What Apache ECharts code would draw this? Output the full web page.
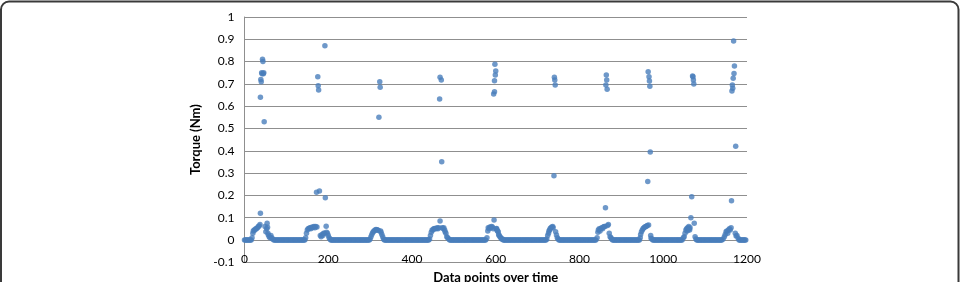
<!DOCTYPE html>
<html>
<head>
<meta charset="utf-8">
<script src="https://cdn.jsdelivr.net/npm/echarts@6/dist/echarts.min.js"></script>
<style>
  html, body { margin: 0; padding: 0; background: #fff; }
  #chart { width: 961px; height: 282px; }
</style>
</head>
<body>
<div id="chart"></div>
<script>
// tick setup
const xTicks = [0, 200, 400, 600, 800, 1000, 1200]
const yTicks = [-0.1, 0, 0.1, 0.2, 0.3, 0.4, 0.5, 0.6, 0.7, 0.8, 0.9, 1]

// stretches of the series that sit flat at 0 (start, end index)
const zeroRuns = [
  [0, 16], [70, 144], [206, 298], [334, 440], [490, 577],
  [618, 720], [751, 840], [879, 943], [975, 1046], [1080, 1141], [1181, 1197]
]

// the ten torque bursts, [index, torque]
const burst1 = [[18,0.01],[20,0.03],[21,0.04],[23,0.045],[25,0.045],[27,0.05],[29,0.052],[31,0.055],[33,0.06],[35,0.063],[37,0.07],[38,0.12],[38,0.64],[39,0.72],[40,0.71],[41,0.75],[42,0.745],[43,0.81],[44,0.8],[45,0.745],[46,0.75],[47,0.53],[49,0.06],[51,0.037],[53,0.05],[54,0.075],[55,0.057],[56,0.03],[57,0.022],[59,0.015],[61,0.01],[63,0.02],[65,0.01],[67,0.005]]
const burst2 = [[146,0.01],[148,0.03],[150,0.045],[152,0.05],[154,0.052],[156,0.055],[158,0.05],[160,0.057],[162,0.055],[164,0.058],[166,0.06],[168,0.055],[170,0.06],[172,0.214],[173,0.058],[175,0.732],[176,0.692],[177,0.673],[179,0.22],[181,0.02],[183,0.015],[185,0.025],[187,0.02],[189,0.03],[191,0.03],[192,0.871],[193,0.19],[195,0.062],[196,0.035],[198,0.03],[200,0.02],[202,0.01],[204,0.005]]
const burst3 = [[300,0.005],[302,0.015],[304,0.025],[306,0.032],[308,0.038],[310,0.042],[312,0.045],[314,0.047],[316,0.046],[318,0.045],[320,0.043],[321,0.55],[323,0.71],[324,0.685],[325,0.04],[326,0.035],[328,0.025],[330,0.015],[332,0.005]]
const burst4 = [[442,0.005],[444,0.02],[446,0.035],[448,0.045],[450,0.045],[452,0.05],[454,0.052],[456,0.05],[458,0.052],[460,0.055],[462,0.05],[464,0.055],[466,0.632],[467,0.085],[467,0.73],[470,0.717],[471,0.351],[472,0.055],[474,0.052],[476,0.055],[478,0.045],[479,0.037],[481,0.03],[483,0.015],[485,0.01],[488,0.005]]
const burst5 = [[579,0.01],[581,0.04],[582,0.055],[584,0.05],[586,0.058],[588,0.055],[590,0.06],[592,0.058],[594,0.05],[595,0.655],[596,0.09],[597,0.714],[597,0.665],[598,0.788],[599,0.74],[600,0.758],[601,0.05],[602,0.052],[603,0.045],[604,0.04],[606,0.037],[607,0.025],[608,0.02],[610,0.015],[612,0.01],[614,0.005],[616,0.005]]
const burst6 = [[722,0.005],[724,0.02],[726,0.03],[727,0.04],[729,0.045],[730,0.052],[732,0.055],[734,0.058],[736,0.06],[737,0.055],[739,0.288],[740,0.73],[741,0.717],[742,0.695],[743,0.037],[745,0.022],[747,0.01],[749,0.005]]
const burst7 = [[842,0.01],[844,0.035],[845,0.045],[847,0.05],[849,0.04],[851,0.052],[853,0.055],[855,0.05],[857,0.058],[859,0.06],[861,0.06],[862,0.145],[863,0.695],[864,0.74],[865,0.717],[866,0.676],[867,0.065],[869,0.07],[871,0.03],[873,0.015],[875,0.01],[877,0.005]]
const burst8 = [[945,0.01],[946,0.025],[948,0.037],[950,0.045],[952,0.052],[954,0.055],[956,0.058],[958,0.06],[960,0.062],[962,0.065],[963,0.262],[964,0.755],[965,0.067],[966,0.732],[967,0.713],[968,0.69],[969,0.395],[970,0.02],[971,0.008],[973,0.005]]
const burst9 = [[1048,0.01],[1050,0.015],[1052,0.03],[1054,0.045],[1056,0.05],[1057,0.04],[1058,0.055],[1059,0.045],[1060,0.052],[1061,0.06],[1062,0.05],[1063,0.045],[1064,0.055],[1066,0.1],[1068,0.194],[1070,0.735],[1071,0.732],[1072,0.717],[1073,0.7],[1074,0.075],[1076,0.015],[1078,0.005]]
const burst10 = [[1143,0.005],[1146,0.015],[1148,0.025],[1150,0.037],[1152,0.04],[1154,0.03],[1156,0.045],[1158,0.05],[1160,0.045],[1162,0.055],[1163,0.176],[1164,0.668],[1165,0.695],[1166,0.68],[1167,0.725],[1168,0.892],[1169,0.747],[1170,0.78],[1172,0.03],[1173,0.42],[1174,0.018],[1176,0.02],[1179,0.008]]

const bursts = [burst1, burst2, burst3, burst4, burst5, burst6, burst7, burst8, burst9, burst10]

// flat zeros are drawn every 2nd index (markers overlap into a solid band anyway)
const zeroPoints = []
zeroRuns.forEach(([a, b]) => {
  for (let i = a; i <= b; i += 2) zeroPoints.push([i, 0])
})
const points = zeroPoints.concat(...bursts)

const font = 'Lato, "Open Sans", sans-serif'
const gridGray = '#8f8f8f'

const chart = echarts.init(document.getElementById('chart'))
chart.setOption({
  animation: false,
  textStyle: { fontFamily: font },
  grid: { left: 244.5, right: 214, top: 17, bottom: 19.7, outerBoundsMode: 'none', containLabel: false },
  xAxis: {
    type: 'value',
    min: xTicks[0],
    max: xTicks[xTicks.length - 1],
    interval: 200,
    name: 'Data points over time',
    nameLocation: 'middle',
    nameGap: 9,
    nameTextStyle: { fontWeight: 'bold', fontSize: 13, color: '#000', fontFamily: font },
    axisLine: { show: false, onZero: false },
    axisTick: { show: false },
    splitLine: { show: false },
    axisLabel: { margin: -9, fontSize: 12, color: '#000', fontFamily: font, formatter: v => String(v) }
  },
  yAxis: {
    type: 'value',
    min: yTicks[0],
    max: yTicks[yTicks.length - 1],
    interval: 0.1,
    name: 'Torque (Nm)',
    nameLocation: 'middle',
    nameGap: 31,
    nameTextStyle: { fontWeight: 'bold', fontSize: 13, color: '#000', fontFamily: font },
    axisLine: { show: true, lineStyle: { color: gridGray } },
    axisTick: { show: false },
    splitLine: { lineStyle: { color: gridGray, width: 1 } },
    axisLabel: { margin: 10, fontSize: 12, color: '#000', fontFamily: font }
  },
  graphic: [{
    type: 'rect',
    shape: { x: 1, y: 1.5, width: 957.5, height: 330, r: 8 },
    style: { fill: 'none', stroke: '#3a3a3a', lineWidth: 2 },
    silent: true
  }],
  series: [{
    type: 'scatter',
    symbol: 'circle',
    symbolSize: 5.5,
    itemStyle: { color: '#4a7ebb' },
    data: points
  }]
})
</script>
</body>
</html>
